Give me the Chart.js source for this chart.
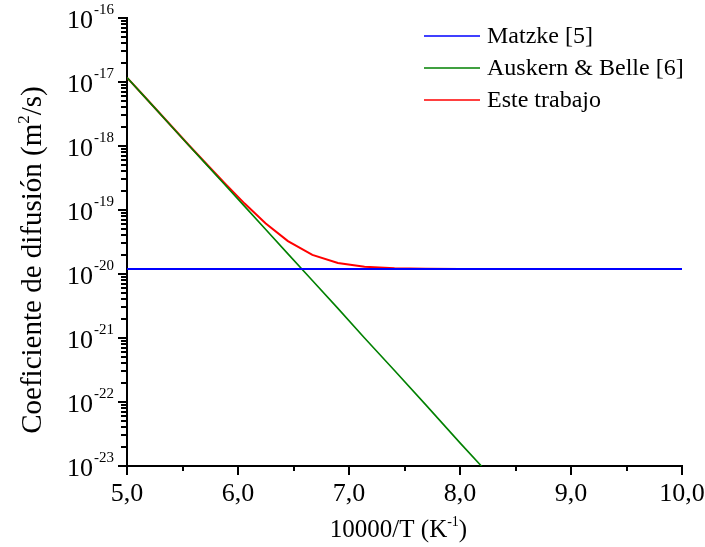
<!DOCTYPE html>
<html>
<head>
<meta charset="utf-8">
<script src="https://cdn.jsdelivr.net/npm/chart.js@4/dist/chart.umd.min.js"></script>
<style>
  html, body { margin: 0; padding: 0; background: #fff; }
  canvas { display: block; }
</style>
</head>
<body>
<canvas id="c" width="705" height="547"></canvas>
<script>
// 10000/T (K^-1), for T = 2000 K down to 1000 K in 50 K steps
const invT = [5.00, 5.13, 5.26, 5.41, 5.56, 5.71, 5.88, 6.06, 6.25, 6.45, 6.67,
              6.90, 7.14, 7.41, 7.69, 8.00, 8.33, 8.70, 9.09, 9.52, 10.00];

// Diffusion coefficients (m^2/s)
const matzke = [1.2e-20, 1.2e-20, 1.2e-20, 1.2e-20, 1.2e-20, 1.2e-20, 1.2e-20,
                1.2e-20, 1.2e-20, 1.2e-20, 1.2e-20, 1.2e-20, 1.2e-20, 1.2e-20,
                1.2e-20, 1.2e-20, 1.2e-20, 1.2e-20, 1.2e-20, 1.2e-20, 1.2e-20];
const auskernBelle = [1.17e-17, 6.65e-18, 3.77e-18, 1.95e-18, 1.01e-18, 5.26e-19,
                      2.50e-19, 1.14e-19, 4.95e-20, 2.06e-20, 7.9e-21, 2.9e-21,
                      1.0e-21, 3.1e-22, 9.1e-23, 2.3e-23, 5.5e-24,
                      null, null, null, null];
const esteTrabajo = [1.17e-17, 6.66e-18, 3.78e-18, 1.96e-18, 1.02e-18, 5.38e-19,
                     2.62e-19, 1.26e-19, 6.15e-20, 3.26e-20, 1.99e-20, 1.49e-20,
                     1.30e-20, 1.23e-20, 1.21e-20, 1.20e-20, 1.20e-20, 1.20e-20,
                     1.20e-20, 1.20e-20, 1.20e-20];

const seriesNames = ['Matzke [5]', 'Auskern & Belle [6]', 'Este trabajo'];

// Axis ticks and labels
const xMajorTicks = [5, 6, 7, 8, 9, 10];
const xMajorLabels = ['5,0', '6,0', '7,0', '8,0', '9,0', '10,0'];
const xMinorTicks = [5.5, 6.5, 7.5, 8.5, 9.5];
const yExponents = [-23, -22, -21, -20, -19, -18, -17, -16];
const yMinorMantissas = [2, 3, 4, 5, 6, 7, 8, 9];

const SERIF = '"Liberation Serif", "Times New Roman", serif';

const toPoints = (ys) => invT.map((x, i) => ({ x: x, y: ys[i] }));

// Draws a run of [text, size, rise] parts starting at x on baseline y
function drawParts(ctx, parts, x, y) {
  let cx = x;
  parts.forEach(([t, size, rise]) => {
    ctx.font = size + 'px ' + SERIF;
    ctx.fillText(t, cx, y - rise);
    cx += ctx.measureText(t).width;
  });
  return cx;
}
function partsWidth(ctx, parts) {
  let w = 0;
  parts.forEach(([t, size]) => {
    ctx.font = size + 'px ' + SERIF;
    w += ctx.measureText(t).width;
  });
  return w;
}

const axisDecor = {
  id: 'axisDecor',
  afterDraw(chart) {
    const { ctx, chartArea: a, scales } = chart;
    const xs = scales.x, ys = scales.y;
    const L = Math.round(a.left), B = Math.round(a.bottom);
    ctx.save();
    ctx.fillStyle = '#000';

    // x ticks (outward)
    xMajorTicks.forEach(v => {
      const px = Math.round(xs.getPixelForValue(v));
      ctx.fillRect(px - 1, B, 2, 9);
    });
    xMinorTicks.forEach(v => {
      const px = Math.round(xs.getPixelForValue(v));
      ctx.fillRect(px - 1, B, 2, 5);
    });

    // y ticks (outward), major at decades, minor at 2..9
    yExponents.forEach((e, i) => {
      const py = Math.round(ys.getPixelForValue(Math.pow(10, e)));
      ctx.fillRect(L - 9, py - 1, 10, 2);
      if (i < yExponents.length - 1) {
        yMinorMantissas.forEach(m => {
          const pm = Math.round(ys.getPixelForValue(m * Math.pow(10, e)));
          ctx.fillRect(L - 6, pm - 1, 7, 2);
        });
      }
    });

    // x tick labels
    ctx.textAlign = 'center';
    ctx.textBaseline = 'alphabetic';
    ctx.font = '26px ' + SERIF;
    xMajorTicks.forEach((v, i) => {
      ctx.fillText(xMajorLabels[i], xs.getPixelForValue(v), a.bottom + 35);
    });

    // y tick labels: 10 with superscript exponent
    yExponents.forEach(e => {
      const py = ys.getPixelForValue(Math.pow(10, e));
      ctx.textAlign = 'right';
      ctx.font = '26px ' + SERIF;
      ctx.fillText('10', a.left - 34, py + 10);
      ctx.textAlign = 'left';
      ctx.font = '15px ' + SERIF;
      ctx.fillText('-' + Math.abs(e), a.left - 33, py - 4);
    });

    // x axis title
    ctx.textAlign = 'left';
    const xt = [['10000/T (K', 25, 0], ['-1', 14, 11], [')', 25, 0]];
    const xw = partsWidth(ctx, xt);
    drawParts(ctx, xt, (a.left + a.right) / 2 - 6 - xw / 2, a.bottom + 71);

    // y axis title (rotated)
    const yt = [['Coeficiente de difusión (m', 29, 0], ['2', 17, 12], ['/s)', 29, 0]];
    const yw = partsWidth(ctx, yt);
    ctx.save();
    ctx.translate(41, 260);
    ctx.rotate(-Math.PI / 2);
    drawParts(ctx, yt, -yw / 2, 0);
    ctx.restore();

    // legend
    ctx.font = '24px ' + SERIF;
    chart.data.datasets.forEach((ds, i) => {
      const ly = 36 + i * 32;
      ctx.strokeStyle = ds.borderColor;
      ctx.lineWidth = 1.5;
      ctx.beginPath();
      ctx.moveTo(424, ly);
      ctx.lineTo(480, ly);
      ctx.stroke();
      ctx.fillStyle = '#000';
      ctx.fillText(ds.label, 487, ly + 7);
    });

    ctx.restore();
  }
};

new Chart(document.getElementById('c'), {
  type: 'line',
  data: {
    datasets: [
      { label: seriesNames[0], data: toPoints(matzke), borderColor: '#0000FF', borderWidth: 2 },
      { label: seriesNames[1], data: toPoints(auskernBelle), borderColor: '#008000', borderWidth: 1.6 },
      { label: seriesNames[2], data: toPoints(esteTrabajo), borderColor: '#FF0000', borderWidth: 2 }
    ]
  },
  options: {
    responsive: false,
    devicePixelRatio: 1,
    animation: false,
    elements: { point: { radius: 0 }, line: { tension: 0, fill: false } },
    layout: { padding: { top: 18, right: 23, left: 0, bottom: 0 } },
    plugins: { legend: { display: false }, tooltip: { enabled: false } },
    scales: {
      x: {
        type: 'linear', min: 5, max: 10,
        ticks: { display: false },
        grid: { display: false },
        border: { display: true, color: '#000', width: 2 },
        afterFit: (s) => { s.height = 81; }
      },
      y: {
        type: 'logarithmic', min: 1e-23, max: 1e-16,
        ticks: { display: false },
        grid: { display: false },
        border: { display: true, color: '#000', width: 2 },
        afterFit: (s) => { s.width = 127; }
      }
    }
  },
  plugins: [axisDecor]
});
</script>
</body>
</html>
